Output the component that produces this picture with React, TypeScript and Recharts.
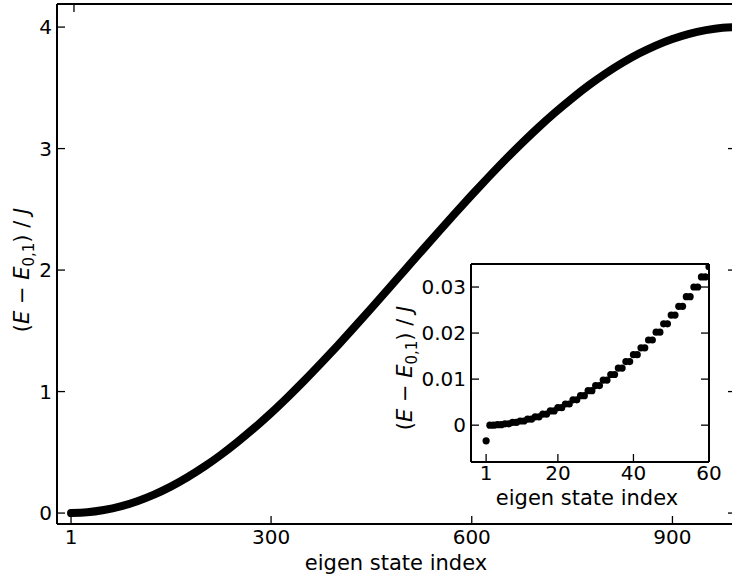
import {
  Line,
  LineChart,
  Scatter,
  ScatterChart,
  XAxis,
  YAxis,
} from "recharts";

// main panel: energy every 25 states
const mainIndex = [
  1, 25, 50, 75, 100, 125, 150, 175, 200, 225, 250, 275, 300, 325, 350, 375,
  400, 425, 450, 475, 500, 525, 550, 575, 600, 625, 650, 675, 700, 725, 750,
  775, 800, 825, 850, 875, 900, 925, 950, 975, 1000,
];
const mainEnergy = [
  0, 0.006, 0.025, 0.055, 0.098, 0.152, 0.218, 0.295, 0.382, 0.479, 0.586,
  0.701, 0.824, 0.955, 1.092, 1.235, 1.382, 1.533, 1.687, 1.843, 2.0, 2.157,
  2.313, 2.467, 2.618, 2.765, 2.908, 3.045, 3.176, 3.299, 3.414, 3.521, 3.618,
  3.705, 3.782, 3.848, 3.902, 3.945, 3.975, 3.994, 4.0,
];
const mainXTicks = [1, 300, 600, 900];
const mainYTicks = [0, 1, 2, 3, 4];

// inset: first 60 states
const insetEnergy = [
  -0.0034, 0, 0, 0.0001, 0.0001, 0.0003, 0.0003, 0.0006, 0.0006, 0.0009,
  0.0009, 0.0013, 0.0013, 0.0018, 0.0018, 0.0024, 0.0024, 0.0031, 0.0031,
  0.0038, 0.0038, 0.0046, 0.0046, 0.0055, 0.0055, 0.0064, 0.0064, 0.0075,
  0.0075, 0.0086, 0.0086, 0.0098, 0.0098, 0.011, 0.011, 0.0124, 0.0124,
  0.0138, 0.0138, 0.0153, 0.0153, 0.0168, 0.0168, 0.0185, 0.0185, 0.0202,
  0.0202, 0.022, 0.022, 0.0239, 0.0239, 0.0258, 0.0258, 0.0279, 0.0279, 0.03,
  0.03, 0.0322, 0.0322, 0.0344,
];
const insetXTicks = [1, 20, 40, 60];
const insetYTicks = [0, 0.01, 0.02, 0.03];

const mainData = mainIndex.map((n, i) => ({ n, e: mainEnergy[i] }));
const insetData = insetEnergy.map((e, i) => ({ n: i + 1, e }));

const FONT = "DejaVu Sans, sans-serif";
const FS = 21;
const TFS = 20;
const TICK_LEN = 8;

type Side = "left" | "right" | "top" | "bottom";

// inward tick marks (matplotlib direction='in'); x/y arrive on the spine
const makeTick = (side: Side, label: boolean, labelGap: number) => (props: any) => {
  const { x, y, payload } = props;
  let line;
  if (side === "bottom") line = <line x1={x} x2={x} y1={y} y2={y - TICK_LEN} />;
  else if (side === "top") line = <line x1={x} x2={x} y1={y} y2={y + TICK_LEN} />;
  else if (side === "left") line = <line x1={x} x2={x + TICK_LEN} y1={y} y2={y} />;
  else line = <line x1={x} x2={x - TICK_LEN} y1={y} y2={y} />;
  return (
    <g>
      <g stroke="#000" strokeWidth={1.3}>{line}</g>
      {label && side === "bottom" && (
        <text x={x} y={y + labelGap} textAnchor="middle" fontSize={TFS} fontFamily={FONT} fill="#000">
          {String(payload.value)}
        </text>
      )}
      {label && side === "left" && (
        <text x={x - labelGap} y={y} dy="0.36em" textAnchor="end" fontSize={TFS} fontFamily={FONT} fill="#000">
          {String(payload.value)}
        </text>
      )}
    </g>
  );
};

const axisLine = { stroke: "#000", strokeWidth: 2 };

const YLabel = ({ x, y }: { x: number; y: number }) => (
  <text
    x={x}
    y={y}
    transform={`rotate(-90 ${x} ${y})`}
    textAnchor="middle"
    fontSize={FS}
    fontFamily={FONT}
    fill="#000"
  >
    <tspan>(</tspan>
    <tspan fontStyle="italic">E</tspan>
    <tspan> − </tspan>
    <tspan fontStyle="italic">E</tspan>
    <tspan dy={5} fontSize={15}>0,1</tspan>
    <tspan dy={-5}>) / </tspan>
    <tspan fontStyle="italic">J</tspan>
  </text>
);

export default function App() {
  return (
    <div
      style={{
        position: "fixed",
        left: 0,
        top: 0,
        width: 732,
        height: 577,
        overflow: "hidden",
        background: "#fff",
      }}
    >
      <div style={{ position: "absolute", left: 0, top: 0 }}>
        <LineChart
          width={760}
          height={577}
          data={mainData}
          margin={{ top: 3, right: 23, bottom: 0, left: 0 }}
        >
          <XAxis
            dataKey="n"
            type="number"
            domain={[-20, 995]}
            ticks={mainXTicks}
            allowDataOverflow
            height={53}
            interval={0}
            tickSize={0}
            tickMargin={0}
            axisLine={axisLine}
            tickLine={false}
            tick={makeTick("bottom", true, 20)}
          />
          <XAxis
            xAxisId="top"
            orientation="top"
            type="number"
            domain={[-20, 995]}
            ticks={mainXTicks}
            allowDataOverflow
            height={1}
            interval={0}
            tickSize={0}
            tickMargin={0}
            axisLine={axisLine}
            tickLine={false}
            tick={makeTick("top", false, 0)}
          />
          <YAxis
            type="number"
            domain={[-0.09, 4.19]}
            ticks={mainYTicks}
            allowDataOverflow
            width={57}
            interval={0}
            tickSize={0}
            tickMargin={0}
            axisLine={axisLine}
            tickLine={false}
            tick={makeTick("left", true, 5)}
          />
          <YAxis
            yAxisId="right"
            orientation="right"
            type="number"
            domain={[-0.09, 4.19]}
            ticks={mainYTicks}
            allowDataOverflow
            width={1}
            interval={0}
            tickSize={0}
            tickMargin={0}
            axisLine={axisLine}
            tickLine={false}
            tick={makeTick("right", false, 0)}
          />
          <Line
            type="monotone"
            dataKey="e"
            stroke="#000"
            strokeWidth={8}
            strokeLinecap="round"
            dot={false}
            isAnimationActive={false}
          />
        </LineChart>
      </div>

      <div style={{ position: "absolute", left: 380, top: 250 }}>
        <ScatterChart
          width={352}
          height={260}
          margin={{ top: 13, right: 22, bottom: 0, left: 0 }}
        >
          <XAxis
            dataKey="n"
            type="number"
            domain={[-3, 60]}
            ticks={insetXTicks}
            allowDataOverflow
            height={48}
            interval={0}
            tickSize={0}
            tickMargin={0}
            axisLine={axisLine}
            tickLine={false}
            tick={makeTick("bottom", true, 18)}
          />
          <XAxis
            xAxisId="top"
            orientation="top"
            type="number"
            domain={[-3, 60]}
            ticks={insetXTicks}
            allowDataOverflow
            height={1}
            interval={0}
            tickSize={0}
            tickMargin={0}
            axisLine={axisLine}
            tickLine={false}
            tick={makeTick("top", false, 0)}
          />
          <YAxis
            dataKey="e"
            type="number"
            domain={[-0.008, 0.035]}
            ticks={insetYTicks}
            allowDataOverflow
            width={91}
            interval={0}
            tickSize={0}
            tickMargin={0}
            axisLine={axisLine}
            tickLine={false}
            tick={makeTick("left", true, 5)}
          />
          <YAxis
            yAxisId="right"
            orientation="right"
            type="number"
            domain={[-0.008, 0.035]}
            ticks={insetYTicks}
            allowDataOverflow
            width={1}
            interval={0}
            tickSize={0}
            tickMargin={0}
            axisLine={axisLine}
            tickLine={false}
            tick={makeTick("right", false, 0)}
          />
          <Scatter
            data={insetData}
            fill="#000"
            isAnimationActive={false}
            shape={(p: any) => <circle cx={p.cx} cy={p.cy} r={3.6} fill="#000" />}
          />
        </ScatterChart>
      </div>

      <svg
        width={732}
        height={577}
        style={{ position: "absolute", left: 0, top: 0, pointerEvents: "none" }}
      >
        <text x={396} y={570} textAnchor="middle" fontSize={FS} fontFamily={FONT} fill="#000">
          eigen state index
        </text>
        <YLabel x={29} y={270} />
        <text x={587} y={505} textAnchor="middle" fontSize={FS} fontFamily={FONT} fill="#000">
          eigen state index
        </text>
        <YLabel x={412} y={368} />
      </svg>
    </div>
  );
}
